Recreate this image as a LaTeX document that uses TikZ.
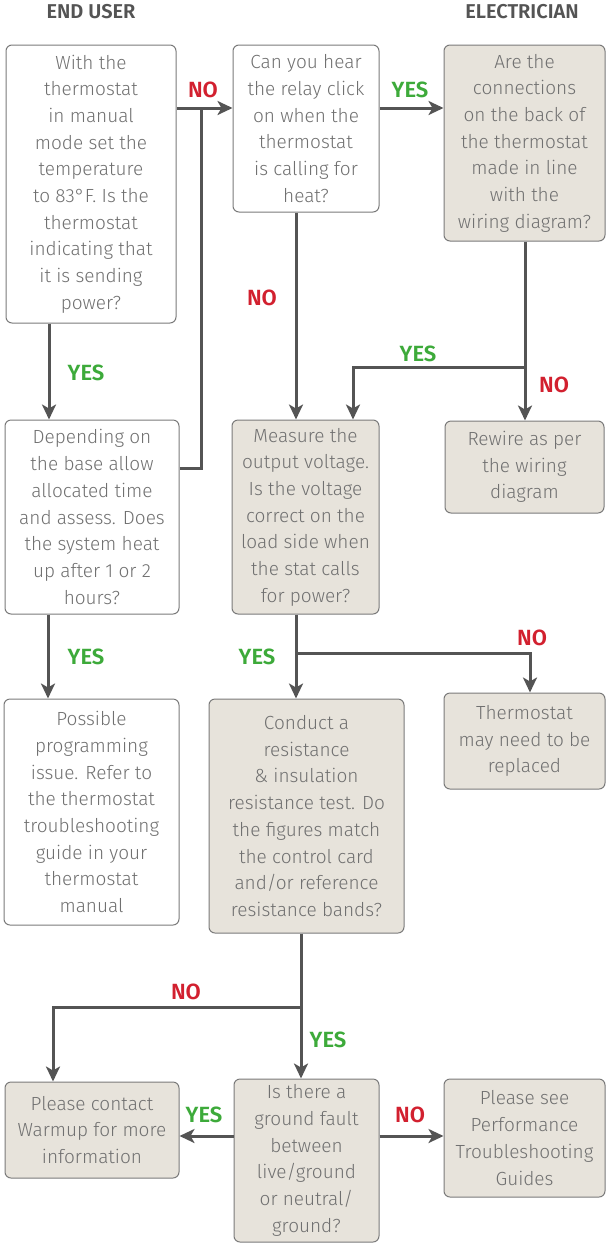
\documentclass[tikz,border=0pt]{standalone}
\usepackage{fontspec}
\setmainfont{Fira Sans}[UprightFont=* Light, BoldFont=* SemiBold]
\usetikzlibrary{arrows.meta}
\definecolor{boxfill}{HTML}{E7E3DB}
\definecolor{boxline}{HTML}{7A7A7A}
\definecolor{txtgray}{HTML}{707070}
\definecolor{arrgray}{HTML}{545454}
\definecolor{yesgreen}{HTML}{3DAA3A}
\definecolor{nored}{HTML}{D2202F}
\begin{document}
\begin{tikzpicture}[
	x=1pt, y=-1pt,
	box/.style={ draw=boxline, line width=1pt, rounded corners=6pt, fill=white, inner sep=0pt, align=center, text=txtgray, font=\fontsize{19}{26.7}\selectfont },
	boxg/.style={ box, fill=boxfill },
	line/.style={ draw=arrgray, line width=3pt },
	arr/.style={ line, -{Stealth[length=15pt,width=14pt,inset=4pt]} },
	lyes/.style={ text=yesgreen, font=\fontsize{22}{26}\selectfont\bfseries },
	lno/.style={ text=nored, font=\fontsize{22}{26}\selectfont\bfseries },
	head/.style={ text=arrgray, font=\fontsize{20}{24}\selectfont\bfseries }
]
\useasboundingbox (0,0) rectangle (606,1243);

\node at (91,12) (user) [head] {END USER};
\node at (522,12) (elec) [head] {ELECTRICIAN};

\node at (91,184) (b1) [box, minimum width=170, minimum height=278] {With the\\thermostat\\in manual\\mode set the\\temperature\\to 83°F. Is the\\thermostat\\indicating that\\it is sending\\power?};
\node at (306,128.5) (b2) [box, minimum width=146, minimum height=167] {Can you hear\\the relay click\\on when the\\thermostat\\is calling for\\heat?};
\node at (524.5,143) (b3) [boxg, minimum width=161, minimum height=196] {Are the\\connections\\on the back of\\the thermostat\\made in line\\with the\\wiring diagram?};

\node at (92,517) (b4) [box, minimum width=174, minimum height=194] {Depending on\\the base allow\\allocated time\\and assess. Does\\the system heat\\up after 1 or 2\\hours?};
\node at (305.5,517) (b5) [boxg, minimum width=147, minimum height=194] {Measure the\\output voltage.\\Is the voltage\\correct on the\\load side when\\the stat calls\\for power?};
\node at (524.5,467) (b6) [boxg, minimum width=159, minimum height=92] {Rewire as per\\the wiring\\diagram};

\node at (91.5,812) (b7) [box, minimum width=175, minimum height=226] {Possible\\programming\\issue. Refer to\\the thermostat\\troubleshooting\\guide in your\\thermostat\\manual};
\node at (306.5,816) (b9) [boxg, minimum width=195, minimum height=234] {Conduct a\\resistance\\\& insulation\\resistance test. Do\\the figures match\\the control card\\and/or reference\\resistance bands?};
\node at (524.5,741) (b8) [boxg, minimum width=161, minimum height=96] {Thermostat\\may need to be\\replaced};

\node at (92,1130) (b10) [boxg, minimum width=174, minimum height=96] {Please contact\\Warmup for more\\information};
\node at (306.5,1160.5) (b11) [boxg, minimum width=145, minimum height=163] {Is there a\\ground fault\\between\\live/ground\\or neutral/\\ground?};
\node at (524.5,1138) (b12) [boxg, minimum width=161, minimum height=118] {Please see\\Performance\\Troubleshooting\\Guides};

\coordinate (n1) at (201,108);
\coordinate (n2) at (201,468);
\coordinate (n3) at (525,367);
\coordinate (n4) at (296,653);
\coordinate (n5) at (301,1007);

\draw[line] (b1.east |- n1) -- (n1);
\draw[line] (b4.east |- n2) -- (n2) -- (n1);
\draw[arr] (n1) -- (b2.west |- n1);
\draw[arr] (b2.east |- n1) -- (b3.west |- n1);
\draw[arr] (b2.south -| n4) -- (b5.north -| n4);
\draw[line] (b3.south -| n3) -- (n3);
\draw[arr] (n3) -- (353,367) -- (b5.north -| 353,0);
\draw[arr] (n3) -- (b6.north -| n3);
\draw[arr] (b1.south -| 49,0) -- (b4.north -| 49,0);
\draw[arr] (b4.south -| 48,0) -- (b7.north -| 48,0);
\draw[line] (b5.south -| n4) -- (n4);
\draw[arr] (n4) -- (b9.north -| n4);
\draw[arr] (n4) -- (530,653) -- (b8.north -| 530,0);
\draw[line] (b9.south -| n5) -- (n5);
\draw[arr] (n5) -- (53,1007) -- (b10.north -| 53,0);
\draw[arr] (n5) -- (b11.north -| n5);
\draw[arr] (b11.west |- 0,1136) -- (b10.east |- 0,1136);
\draw[arr] (b11.east |- 0,1136) -- (b12.west |- 0,1136);

\node at (203,90) (no1) [lno] {NO};
\node at (410,90) (yes1) [lyes] {YES};
\node at (262,298) (no2) [lno] {NO};
\node at (86,373) (yes2) [lyes] {YES};
\node at (418,354) (yes3) [lyes] {YES};
\node at (554,385) (no3) [lno] {NO};
\node at (86,657) (yes4) [lyes] {YES};
\node at (257,657) (yes5) [lyes] {YES};
\node at (532,638) (no4) [lno] {NO};
\node at (186,992) (no5) [lno] {NO};
\node at (328,1040) (yes6) [lyes] {YES};
\node at (204,1115) (yes7) [lyes] {YES};
\node at (410,1115) (no6) [lno] {NO};

\end{tikzpicture}
\end{document}
